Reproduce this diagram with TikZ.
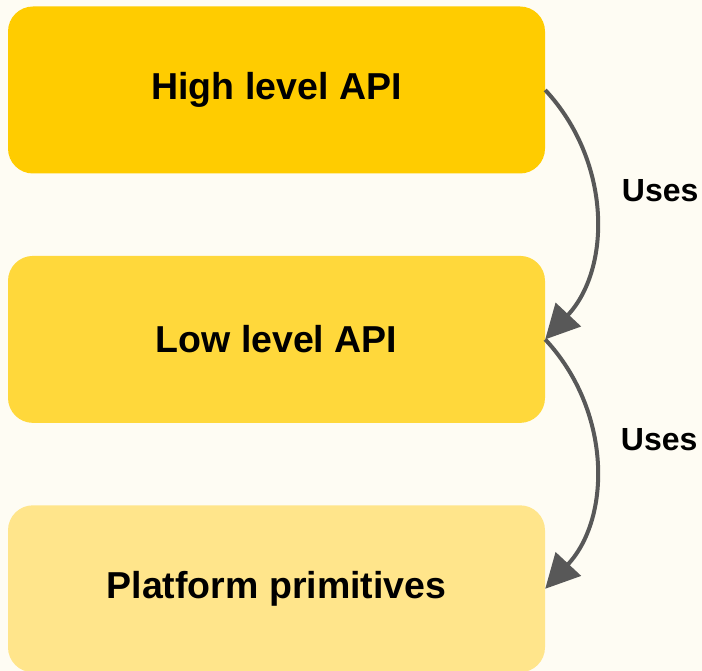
\documentclass[tikz,border=0pt]{standalone}
\usepackage{fontspec}
\setmainfont{Liberation Sans}
\usetikzlibrary{positioning, arrows.meta}

\definecolor{bg_cream}{HTML}{FEFCF3}
\definecolor{layer_high}{HTML}{FFCC00}
\definecolor{layer_low}{HTML}{FFD83B}
\definecolor{layer_base}{HTML}{FFE58B}
\definecolor{arrow_gray}{HTML}{585858}

\begin{document}
\begin{tikzpicture}[x=1pt, y=-1pt,
        box_layer/.style={rectangle, rounded corners=25pt, minimum width=537pt, minimum height=167pt, font=\fontsize{37.5}{40}\selectfont\bfseries, align=center},
        uses_arrow/.style={-{Triangle[length=34pt, width=34pt]}, line width=4pt, arrow_gray},
        uses_label/.style={font=\fontsize{32}{34}\selectfont\bfseries, text=black, inner sep=0pt}
    ]
    
    % ==================== Background ====================
    \fill[bg_cream] (0, 0) rectangle (702, 671);
    \useasboundingbox (0, 0) rectangle (702, 671);
    
    % ==================== Layers ====================
    \node[box_layer, fill=layer_high] (high_api) at (276.5, 90) {High level API};
    \node[box_layer, fill=layer_low, below=82pt of high_api] (low_api) {Low level API};
    \node[box_layer, fill=layer_base, below=82pt of low_api] (platform) {Platform primitives};
    
    % ==================== Connections ====================
    \draw[uses_arrow] (high_api.east) to[bend left=43] node[uses_label, right=25pt, yshift=24pt] {Uses} (low_api.east);
    \draw[uses_arrow] (low_api.east) to[bend left=43] node[uses_label, right=24pt, yshift=24pt] {Uses} (platform.east);
    
\end{tikzpicture}
\end{document}
